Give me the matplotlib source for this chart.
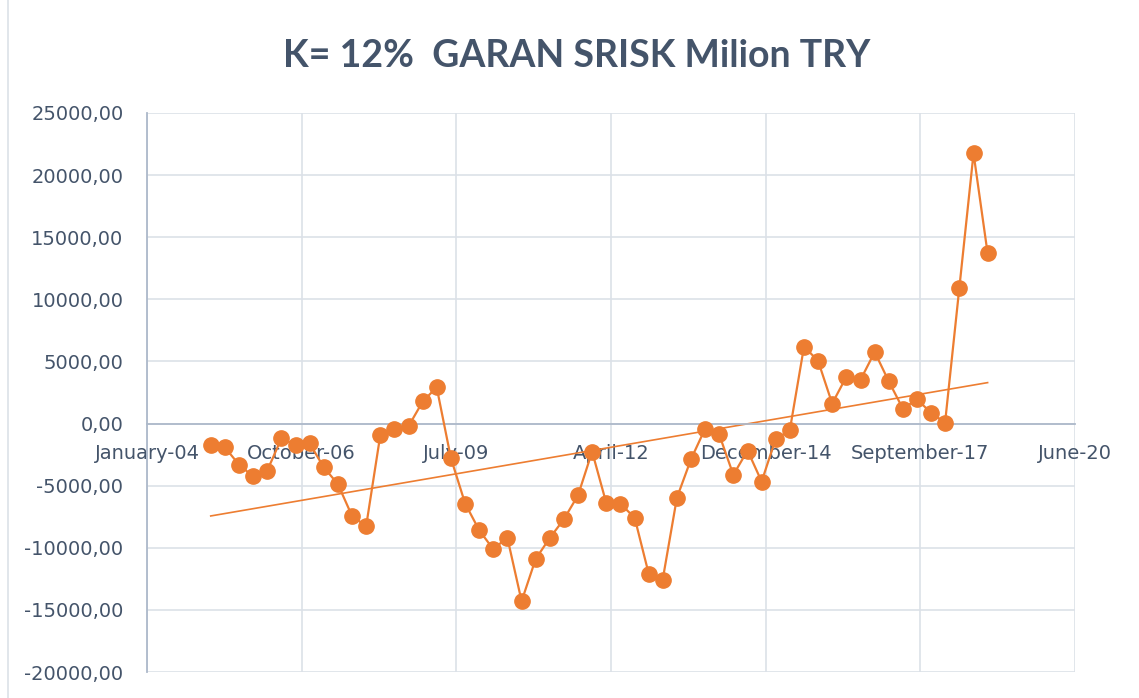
import matplotlib
matplotlib.use('Agg')
import matplotlib.pyplot as plt
import matplotlib.dates as mdates
from matplotlib.lines import Line2D
from matplotlib.ticker import FuncFormatter
import numpy as np
import pandas as pd

# quarterly observations
dates = pd.date_range('2005-03-01', periods=56, freq='3MS')
srisk = [-1730, -1920, -3330, -4260, -3800, -1200, -1730, -1600, -3510, -4870,
         -7450, -8250, -960, -420, -190, 1780, 2920, -2790, -6440, -8590,
         -10100, -9190, -14300, -10900, -9230, -7710, -5770, -2260, -6380, -6460,
         -7580, -12100, -12580, -5980, -2850, -400, -860, -4130, -2170, -4670,
         -1260, -540, 6200, 5040, 1610, 3770, 3540, 5760, 3420, 1200,
         1950, 850, 80, 10900, 21750, 13700]

# axis ticks (excel serial 38000..44000 step 1000)
tick_dates = ['2004-01-14', '2006-10-10', '2009-07-06', '2012-04-01',
              '2014-12-27', '2017-09-22', '2020-06-18']
y_ticks = [-20000, -15000, -10000, -5000, 0, 5000, 10000, 15000, 20000, 25000]

title = 'K= 12%  GARAN SRISK Milion TRY'

orange = '#ED7D31'
text_col = '#44546A'
grid_col = '#DCE1E8'
axis_col = '#ADB9CA'

fig = plt.figure(figsize=(11.39, 6.98), dpi=100)
ax = fig.add_axes([147/1139, 1-672/698, (1075-147)/1139, (672-113)/698])

x = mdates.date2num(dates.to_pydatetime())
tx = mdates.date2num(pd.to_datetime(tick_dates).to_pydatetime())

ax.plot(x, srisk, color=orange, lw=1.6, marker='o', markersize=11,
        markeredgecolor=orange, markerfacecolor=orange, zorder=3)

# linear trend
coef = np.polyfit(x, srisk, 1)
ax.plot([x[0], x[-1]], np.polyval(coef, [x[0], x[-1]]), color=orange, lw=1.2, zorder=2)

ax.set_xlim(tx[0], tx[-1])
ax.set_ylim(y_ticks[0], y_ticks[-1])
ax.set_xticks(tx)
ax.set_yticks(y_ticks)
ax.xaxis.set_major_formatter(mdates.DateFormatter('%B-%y'))
ax.yaxis.set_major_formatter(FuncFormatter(lambda v, p: f'{v:.2f}'.replace('.', ',')))

ax.grid(True, color=grid_col, lw=1.2, zorder=0)
ax.set_axisbelow(True)
for s in ['top', 'right']:
    ax.spines[s].set_visible(False)
ax.spines['bottom'].set_position(('data', 0))
ax.spines['bottom'].set_color(axis_col)
ax.spines['bottom'].set_linewidth(1.3)
ax.spines['left'].set_color(axis_col)
ax.spines['left'].set_linewidth(1.3)

ax.tick_params(axis='both', length=0, labelsize=14, labelcolor=text_col)
ax.tick_params(axis='x', pad=15)
ax.tick_params(axis='y', pad=17)

fig.text(577/1139, 1-56/698, title, ha='center', va='center', fontsize=27,
         fontweight='bold', color=text_col, family=['Lato', 'DejaVu Sans'])

fig.add_artist(Line2D([8/1139, 8/1139], [0, 1], transform=fig.transFigure,
                      color=grid_col, lw=1.2))

fig.savefig('out.png', dpi=100)
